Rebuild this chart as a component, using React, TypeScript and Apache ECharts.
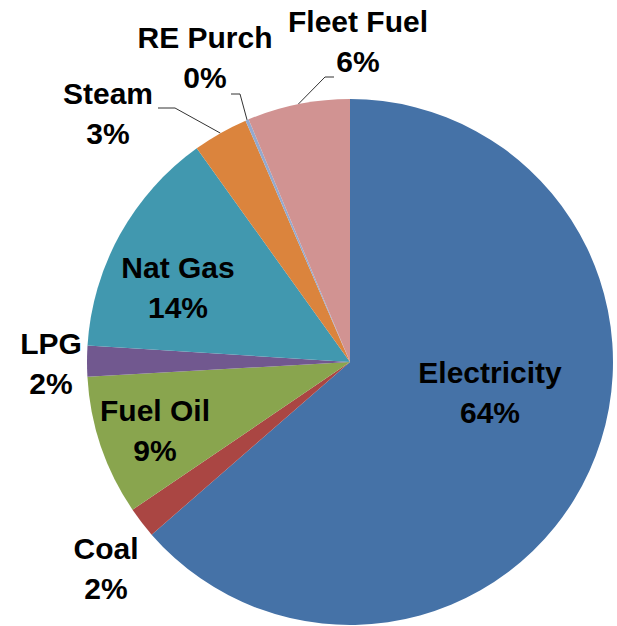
import React, { useEffect, useRef } from "react";
import * as echarts from "echarts";

const categories = ["Electricity", "Coal", "Fuel Oil", "LPG", "Nat Gas", "Steam", "RE Purch", "Fleet Fuel"];
const shares = [63.6, 1.9, 8.6, 1.9, 14.1, 3.4, 0.2, 6.3];
const colors = ["#4572A7", "#AA4643", "#89A54E", "#71588F", "#4198AF", "#DB843D", "#93A9CF", "#D19392"];

// label placement (layout only)
const labelPos: [number, number][] = [
  [490, 392], [106, 568], [155, 430], [51, 363], [178, 287], [108, 113], [205, 57], [358, 41],
];
const linePts: ([number, number][] | null)[] = [
  null, null, null, null, null,
  [[175, 108], [158, 108]],
  [[240, 94], [231, 94]],
  [[325, 77], [334, 77]],
];

export default function App() {
  const ref = useRef<HTMLDivElement>(null);
  useEffect(() => {
    document.body.style.margin = "0";
    const chart = echarts.init(ref.current!, null, { renderer: "svg" });
    chart.setOption({
      animation: false,
      series: [
        {
          type: "pie",
          center: [350, 362],
          radius: 263,
          startAngle: 90,
          clockwise: true,
          avoidLabelOverlap: false,
          itemStyle: { borderWidth: 0 },
          label: {
            show: true,
            position: "outside",
            formatter: (p: any) => `${p.name}\n${Math.round(p.percent)}%`,
            fontFamily: "'Liberation Sans Narrow', 'Arial Narrow', 'Liberation Sans', Arial, sans-serif",
            fontWeight: "bold",
            fontSize: 30,
            lineHeight: 40,
            color: "#000",
            align: "center",
          },
          labelLine: { show: true, lineStyle: { color: "#333", width: 1 } },
          labelLayout: (params: any) => {
            const i = params.dataIndex;
            const [x, y] = labelPos[i];
            const res: any = { x, y, align: "center", verticalAlign: "middle" };
            const extra = linePts[i];
            if (extra && params.labelLinePoints) {
              res.labelLinePoints = [params.labelLinePoints[0], extra[0], extra[1]];
            }
            return res;
          },
          data: categories.map((name, i) => ({
            name,
            value: shares[i],
            itemStyle: { color: colors[i] },
            labelLine: { show: linePts[i] !== null },
          })),
        },
      ],
    });
    return () => chart.dispose();
  }, []);
  return <div ref={ref} style={{ width: 617, height: 626 }} />;
}
